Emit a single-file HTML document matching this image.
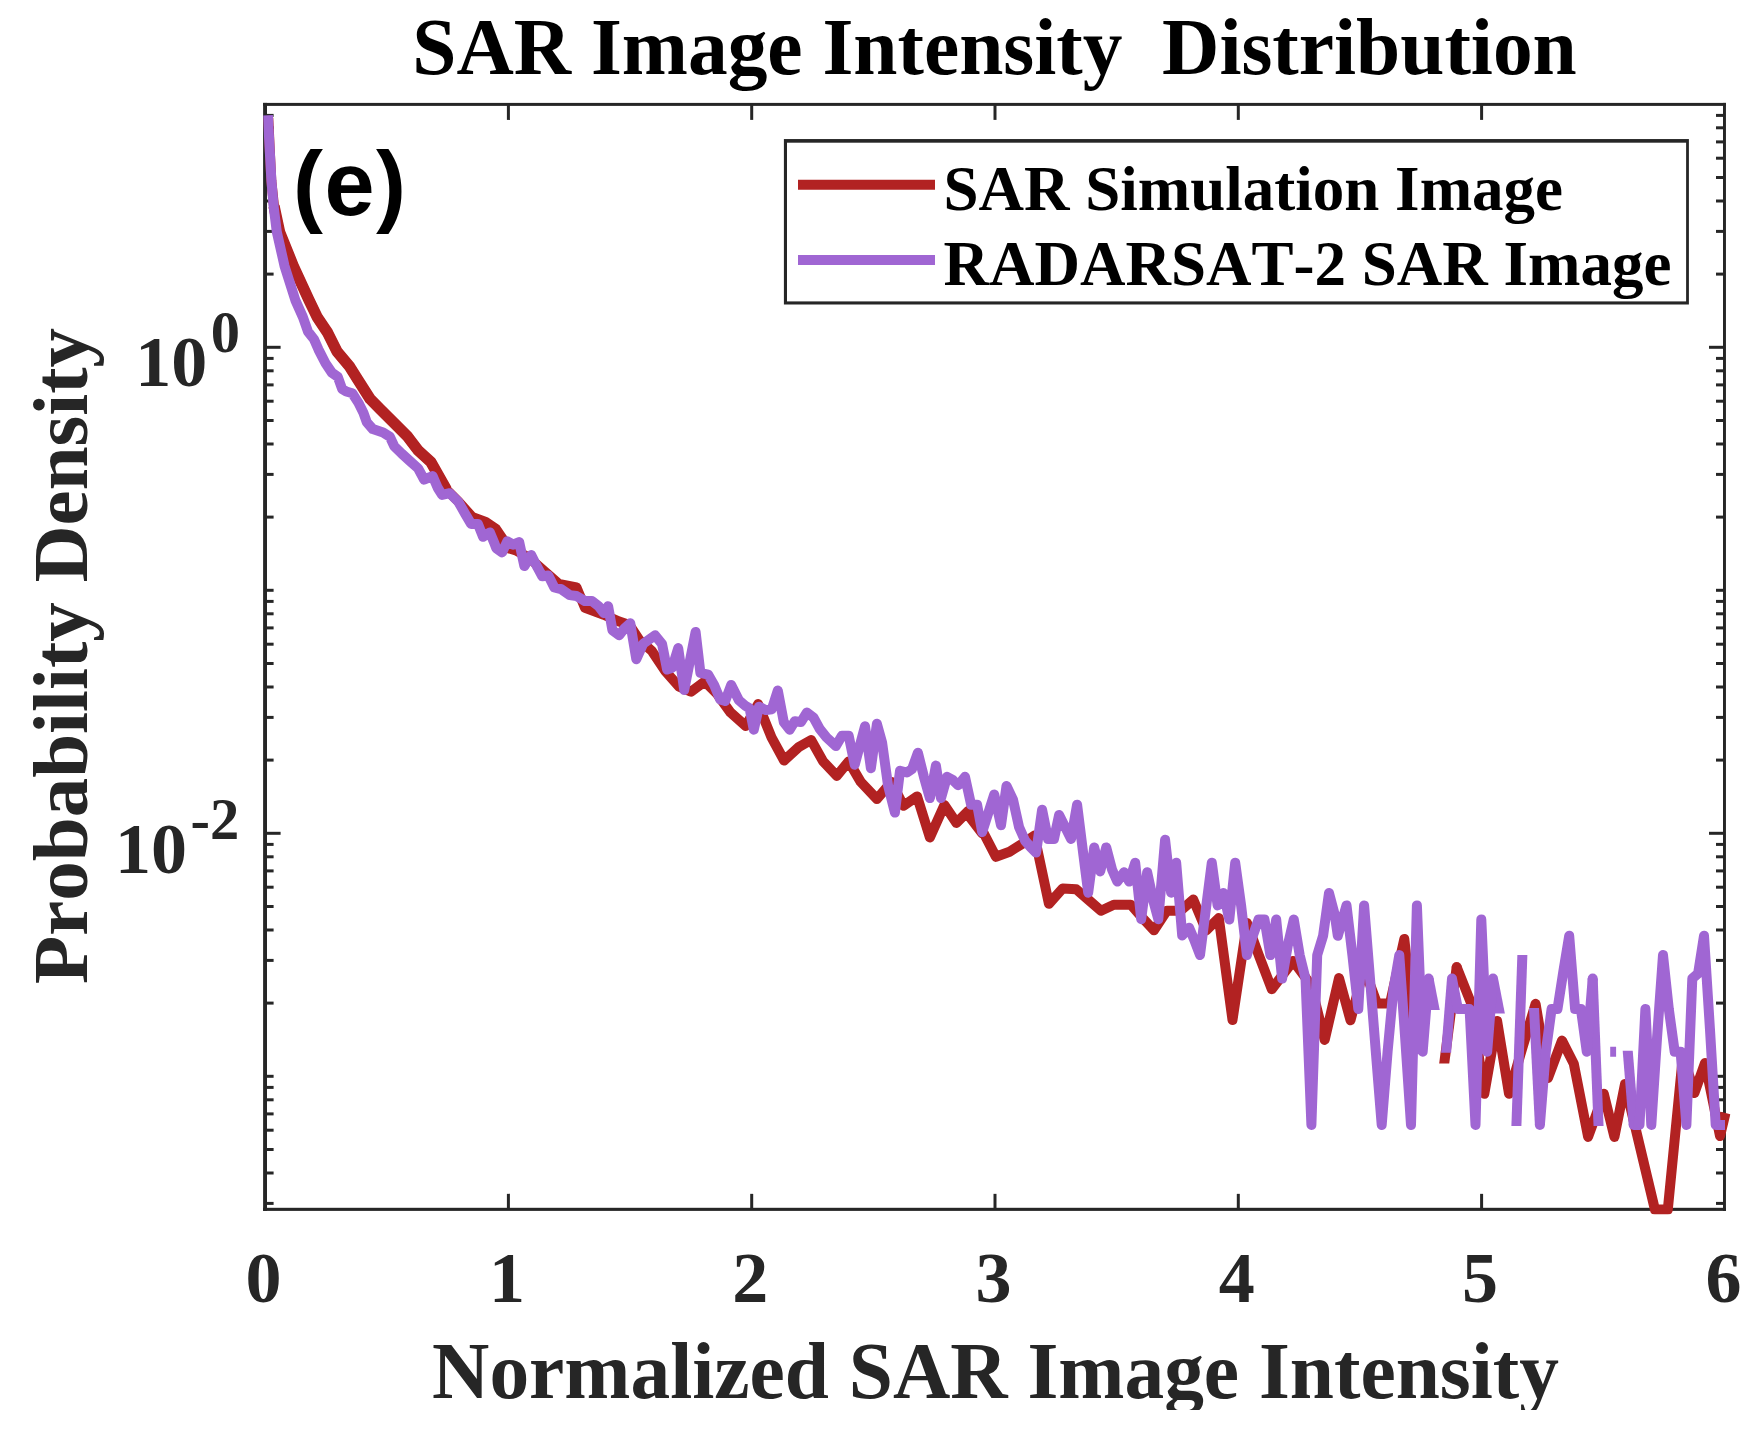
<!DOCTYPE html>
<html><head><meta charset="utf-8"><title>SAR Image Intensity Distribution</title>
<style>html,body{margin:0;padding:0;background:#fff}svg{display:block}text{font-kerning:none}</style></head>
<body>
<svg width="1764" height="1433" viewBox="0 0 1764 1433">
<rect width="1764" height="1433" fill="#fff"/>
<g fill="#262626">
<rect x="263.1" y="102.9" width="3.9" height="1108"/>
<rect x="1723.0" y="102.9" width="2.95" height="1108"/>
<rect x="263.1" y="102.9" width="1462.85" height="3.0"/>
<rect x="263.1" y="1207.8" width="1462.85" height="3.1"/>
</g>
<g stroke="#262626" stroke-width="3" fill="none">
<line x1="508.4" y1="1209.35" x2="508.4" y2="1193.85"/>
<line x1="508.4" y1="104.4" x2="508.4" y2="119.9"/>
<line x1="751.7" y1="1209.35" x2="751.7" y2="1193.85"/>
<line x1="751.7" y1="104.4" x2="751.7" y2="119.9"/>
<line x1="995.0" y1="1209.35" x2="995.0" y2="1193.85"/>
<line x1="995.0" y1="104.4" x2="995.0" y2="119.9"/>
<line x1="1238.3" y1="1209.35" x2="1238.3" y2="1193.85"/>
<line x1="1238.3" y1="104.4" x2="1238.3" y2="119.9"/>
<line x1="1481.6" y1="1209.35" x2="1481.6" y2="1193.85"/>
<line x1="1481.6" y1="104.4" x2="1481.6" y2="119.9"/>
<line x1="265.1" y1="1203.4" x2="273.6" y2="1203.4"/>
<line x1="1724.5" y1="1203.4" x2="1716.0" y2="1203.4"/>
<line x1="265.1" y1="1173.0" x2="273.6" y2="1173.0"/>
<line x1="1724.5" y1="1173.0" x2="1716.0" y2="1173.0"/>
<line x1="265.1" y1="1149.5" x2="273.6" y2="1149.5"/>
<line x1="1724.5" y1="1149.5" x2="1716.0" y2="1149.5"/>
<line x1="265.1" y1="1130.2" x2="273.6" y2="1130.2"/>
<line x1="1724.5" y1="1130.2" x2="1716.0" y2="1130.2"/>
<line x1="265.1" y1="1113.9" x2="273.6" y2="1113.9"/>
<line x1="1724.5" y1="1113.9" x2="1716.0" y2="1113.9"/>
<line x1="265.1" y1="1099.8" x2="273.6" y2="1099.8"/>
<line x1="1724.5" y1="1099.8" x2="1716.0" y2="1099.8"/>
<line x1="265.1" y1="1087.4" x2="273.6" y2="1087.4"/>
<line x1="1724.5" y1="1087.4" x2="1716.0" y2="1087.4"/>
<line x1="265.1" y1="1076.3" x2="273.6" y2="1076.3"/>
<line x1="1724.5" y1="1076.3" x2="1716.0" y2="1076.3"/>
<line x1="265.1" y1="1003.1" x2="273.6" y2="1003.1"/>
<line x1="1724.5" y1="1003.1" x2="1716.0" y2="1003.1"/>
<line x1="265.1" y1="960.4" x2="273.6" y2="960.4"/>
<line x1="1724.5" y1="960.4" x2="1716.0" y2="960.4"/>
<line x1="265.1" y1="930.0" x2="273.6" y2="930.0"/>
<line x1="1724.5" y1="930.0" x2="1716.0" y2="930.0"/>
<line x1="265.1" y1="906.5" x2="273.6" y2="906.5"/>
<line x1="1724.5" y1="906.5" x2="1716.0" y2="906.5"/>
<line x1="265.1" y1="887.2" x2="273.6" y2="887.2"/>
<line x1="1724.5" y1="887.2" x2="1716.0" y2="887.2"/>
<line x1="265.1" y1="870.9" x2="273.6" y2="870.9"/>
<line x1="1724.5" y1="870.9" x2="1716.0" y2="870.9"/>
<line x1="265.1" y1="856.8" x2="273.6" y2="856.8"/>
<line x1="1724.5" y1="856.8" x2="1716.0" y2="856.8"/>
<line x1="265.1" y1="844.4" x2="273.6" y2="844.4"/>
<line x1="1724.5" y1="844.4" x2="1716.0" y2="844.4"/>
<line x1="265.1" y1="833.3" x2="280.6" y2="833.3"/>
<line x1="1724.5" y1="833.3" x2="1709.0" y2="833.3"/>
<line x1="265.1" y1="760.1" x2="273.6" y2="760.1"/>
<line x1="1724.5" y1="760.1" x2="1716.0" y2="760.1"/>
<line x1="265.1" y1="717.4" x2="273.6" y2="717.4"/>
<line x1="1724.5" y1="717.4" x2="1716.0" y2="717.4"/>
<line x1="265.1" y1="687.0" x2="273.6" y2="687.0"/>
<line x1="1724.5" y1="687.0" x2="1716.0" y2="687.0"/>
<line x1="265.1" y1="663.5" x2="273.6" y2="663.5"/>
<line x1="1724.5" y1="663.5" x2="1716.0" y2="663.5"/>
<line x1="265.1" y1="644.2" x2="273.6" y2="644.2"/>
<line x1="1724.5" y1="644.2" x2="1716.0" y2="644.2"/>
<line x1="265.1" y1="627.9" x2="273.6" y2="627.9"/>
<line x1="1724.5" y1="627.9" x2="1716.0" y2="627.9"/>
<line x1="265.1" y1="613.8" x2="273.6" y2="613.8"/>
<line x1="1724.5" y1="613.8" x2="1716.0" y2="613.8"/>
<line x1="265.1" y1="601.4" x2="273.6" y2="601.4"/>
<line x1="1724.5" y1="601.4" x2="1716.0" y2="601.4"/>
<line x1="265.1" y1="590.3" x2="273.6" y2="590.3"/>
<line x1="1724.5" y1="590.3" x2="1716.0" y2="590.3"/>
<line x1="265.1" y1="517.1" x2="273.6" y2="517.1"/>
<line x1="1724.5" y1="517.1" x2="1716.0" y2="517.1"/>
<line x1="265.1" y1="474.4" x2="273.6" y2="474.4"/>
<line x1="1724.5" y1="474.4" x2="1716.0" y2="474.4"/>
<line x1="265.1" y1="444.0" x2="273.6" y2="444.0"/>
<line x1="1724.5" y1="444.0" x2="1716.0" y2="444.0"/>
<line x1="265.1" y1="420.5" x2="273.6" y2="420.5"/>
<line x1="1724.5" y1="420.5" x2="1716.0" y2="420.5"/>
<line x1="265.1" y1="401.2" x2="273.6" y2="401.2"/>
<line x1="1724.5" y1="401.2" x2="1716.0" y2="401.2"/>
<line x1="265.1" y1="384.9" x2="273.6" y2="384.9"/>
<line x1="1724.5" y1="384.9" x2="1716.0" y2="384.9"/>
<line x1="265.1" y1="370.8" x2="273.6" y2="370.8"/>
<line x1="1724.5" y1="370.8" x2="1716.0" y2="370.8"/>
<line x1="265.1" y1="358.4" x2="273.6" y2="358.4"/>
<line x1="1724.5" y1="358.4" x2="1716.0" y2="358.4"/>
<line x1="265.1" y1="347.3" x2="280.6" y2="347.3"/>
<line x1="1724.5" y1="347.3" x2="1709.0" y2="347.3"/>
<line x1="265.1" y1="274.1" x2="273.6" y2="274.1"/>
<line x1="1724.5" y1="274.1" x2="1716.0" y2="274.1"/>
<line x1="265.1" y1="231.4" x2="273.6" y2="231.4"/>
<line x1="1724.5" y1="231.4" x2="1716.0" y2="231.4"/>
<line x1="265.1" y1="201.0" x2="273.6" y2="201.0"/>
<line x1="1724.5" y1="201.0" x2="1716.0" y2="201.0"/>
<line x1="265.1" y1="177.5" x2="273.6" y2="177.5"/>
<line x1="1724.5" y1="177.5" x2="1716.0" y2="177.5"/>
<line x1="265.1" y1="158.2" x2="273.6" y2="158.2"/>
<line x1="1724.5" y1="158.2" x2="1716.0" y2="158.2"/>
<line x1="265.1" y1="141.9" x2="273.6" y2="141.9"/>
<line x1="1724.5" y1="141.9" x2="1716.0" y2="141.9"/>
<line x1="265.1" y1="127.8" x2="273.6" y2="127.8"/>
<line x1="1724.5" y1="127.8" x2="1716.0" y2="127.8"/>
<line x1="265.1" y1="115.4" x2="273.6" y2="115.4"/>
<line x1="1724.5" y1="115.4" x2="1716.0" y2="115.4"/>
</g>
<defs><clipPath id="ac"><rect x="263.3" y="99" width="1467.3" height="1115.6"/></clipPath></defs>
<g clip-path="url(#ac)">
<path d="M268.3,118.0 L269.6,146.3 L271.3,180.5 L274.0,206.0 L279.5,231.8 L293.3,266.0 L309.0,300.1 L317.2,317.1 L327.5,332.5 L336.9,351.3 L349.7,366.7 L358.2,380.3 L370.2,399.1 L380.5,409.4 L397.6,426.5 L407.8,436.8 L418.1,450.4 L431.0,462.2 L439.6,477.6 L446.4,489.5 L458.4,501.5 L472.1,516.9 L485.7,522.0 L496.0,528.9 L502.8,539.1 L471.5,517.1 L483.5,522.3 L495.5,530.8 L507.4,547.9 L516.0,550.5 L529.6,558.2 L545.0,571.8 L558.7,583.8 L576.5,587.4 L585.0,607.9 L603.8,614.8 L619.2,621.6 L629.5,625.0 L639.7,640.4 L651.7,650.7 L665.4,671.2 L679.1,686.6 L691.0,691.7 L704.7,681.5 L716.7,693.4 L730.3,712.2 L745.7,725.9 L758.1,704.1 L771.5,737.4 L784.1,760.5 L799.1,746.8 L811.1,740.0 L823.1,761.4 L836.8,775.9 L848.7,761.4 L860.7,781.9 L876.9,799.0 L891.5,781.9 L903.4,805.8 L917.1,796.4 L929.9,837.4 L944.4,805.0 L956.4,822.9 L968.4,810.9 L982.1,833.2 L966.8,813.2 L982.2,830.3 L995.9,856.8 L1009.6,851.7 L1023.2,843.2 L1034.4,835.5 L1048.9,903.8 L1062.6,888.5 L1076.2,889.3 L1088.2,899.6 L1101.0,910.7 L1113.8,904.7 L1130.9,904.7 L1142.9,918.4 L1154.0,930.3 L1166.8,910.7 L1180.5,910.7 L1193.3,899.6 L1206.2,930.3 L1218.8,918.0 L1232.5,1020.0 L1247.0,923.0 L1259.0,955.7 L1271.8,989.2 L1293.2,961.0 L1311.0,985.0 L1324.7,1040.0 L1339.0,978.0 L1350.5,1020.3 L1364.0,968.0 L1377.0,1003.5 L1390.0,1003.5 L1404.3,939.0 L1415.5,1040.0" fill="none" stroke="#B22222" stroke-width="10" stroke-linejoin="round" stroke-linecap="butt"/>
<clipPath id="c1"><rect x="0" y="0" width="1764" height="1063.5"/></clipPath><g clip-path="url(#c1)"><path d="M1456.7,967.0 L1443.7,1067.5" fill="none" stroke="#B22222" stroke-width="10" stroke-linejoin="round" stroke-linecap="butt"/></g><circle cx="1456.7" cy="967.0" r="5" fill="#B22222"/><path d="M1456.7,967.0 L1471.0,1003.0 L1484.3,1093.8 L1497.1,1020.9 L1509.0,1093.8 L1522.0,1049.0 L1535.6,1003.8 L1548.0,1078.0 L1562.0,1040.6 L1573.8,1063.8 L1588.1,1136.9 L1603.8,1093.8 L1614.4,1136.9 L1625.0,1084.0 L1654.9,1209.5 L1667.8,1209.5 L1683.0,1055.0 L1694.4,1093.0 L1705.0,1063.0 L1720.0,1136.0 L1725.5,1113.0" fill="none" stroke="#B22222" stroke-width="10" stroke-linejoin="round" stroke-linecap="butt"/>
<path d="M274.0,206.0 L279.5,231.8 L293.3,266.0 L309.0,300.1 L317.2,317.1 L327.5,332.5 L336.9,351.3 L349.7,366.7 L358.2,380.3 L370.2,399.1 L380.5,409.4 L397.6,426.5 L407.8,436.8 L418.1,450.4 L431.0,462.2 L439.6,477.6 L446.4,489.5" fill="none" stroke="#B22222" stroke-width="11.3" stroke-linejoin="round" stroke-linecap="butt"/>
<clipPath id="c2"><rect x="0" y="0" width="1764" height="1010.0"/></clipPath><g clip-path="url(#c2)"><path d="M1428.6,978.6 L1435.4,1013.9" fill="none" stroke="#A066D3" stroke-width="10" stroke-linejoin="round" stroke-linecap="butt"/></g><circle cx="1428.6" cy="978.6" r="5" fill="#A066D3"/><path d="M267.9,115.2 L269.5,146.3 L271.4,180.5 L273.6,206.1 L276.8,231.8 L284.5,265.9 L295.3,300.1 L302.9,317.1 L308.0,331.6 L314.0,339.3 L318.5,349.6 L325.5,363.2 L331.8,372.6 L337.8,376.9 L342.1,388.9 L346.3,391.5 L352.3,393.2 L358.3,402.6 L363.4,412.8 L366.8,422.2 L372.8,429.1 L383.1,432.5 L389.9,436.8 L394.2,446.2 L401.9,453.8 L410.4,461.5 L418.1,468.4 L424.1,479.5 L432.6,476.1 L437.8,488.0 L442.1,494.9 L449.7,493.2 L458.3,501.7 L465.1,513.7 L471.1,523.9 L477.9,523.9 L483.1,536.8 L489.9,532.5 L494.2,542.7 L496.2,548.1 L502.1,552.4 L507.3,541.3 L513.2,544.7 L519.2,542.1 L524.4,566.1 L531.2,555.0 L537.2,566.9 L542.3,576.3 L548.3,575.5 L554.3,587.4 L561.1,589.1 L569.7,595.1 L576.5,596.0 L585.0,601.1 L591.9,601.1 L598.7,606.2 L603.8,613.1 L608.1,606.2 L612.4,630.2 L619.2,635.3 L624.4,628.5 L630.3,623.3 L636.3,659.2 L643.2,643.8 L655.1,635.3 L662.0,643.8 L667.1,669.5 L672.2,667.8 L678.2,648.1 L684.2,690.0 L695.6,631.9 L700.4,672.9 L708.1,674.6 L714.1,684.9 L720.1,699.4 L725.2,701.1 L731.2,684.9 L738.9,700.3 L745.3,705.8 L749.6,708.4 L753.8,729.7 L759.0,706.7 L765.8,710.1 L771.8,709.2 L777.8,690.4 L783.8,722.1 L789.7,729.7 L794.9,721.2 L800.9,722.1 L806.8,712.6 L813.7,717.8 L819.7,728.9 L826.5,737.4 L835.9,746.0 L841.9,735.7 L848.7,735.7 L854.7,764.8 L865.0,726.3 L870.9,768.2 L876.9,723.8 L882.1,742.6 L888.0,785.3 L894.9,812.6 L900.0,770.8 L906.8,772.5 L912.0,769.1 L917.9,752.8 L923.9,776.8 L929.9,798.1 L935.9,765.6 L941.0,798.1 L947.0,776.8 L953.0,780.2 L958.1,785.3 L965.0,776.8 L971.1,804.7 L977.1,804.7 L982.2,832.1 L988.2,813.2 L994.2,794.4 L1001.0,825.2 L1006.5,785.9 L1013.0,799.6 L1019.0,826.9 L1025.0,840.6 L1030.9,847.4 L1036.1,852.6 L1042.1,809.8 L1048.0,838.9 L1054.0,838.9 L1059.1,815.0 L1065.1,826.9 L1071.1,838.9 L1077.1,804.7 L1083.1,852.6 L1088.2,892.7 L1094.2,847.4 L1100.2,871.4 L1106.2,847.4 L1112.1,869.7 L1117.3,881.6 L1124.1,872.2 L1129.2,881.6 L1135.2,862.8 L1141.2,919.2 L1147.2,872.2 L1153.2,900.4 L1158.3,919.2 L1165.1,839.7 L1171.1,892.7 L1176.2,862.8 L1182.2,935.5 L1189.1,927.8 L1194.2,939.7 L1200.0,955.1 L1211.8,862.7 L1217.6,905.4 L1223.5,893.0 L1229.3,919.5 L1235.2,862.7 L1241.1,905.4 L1246.9,955.1 L1252.8,935.8 L1258.6,919.5 L1264.5,919.5 L1270.4,955.1 L1276.2,919.5 L1282.1,978.6 L1287.9,945.0 L1293.8,919.5 L1299.7,955.1 L1305.5,978.6 L1311.4,1124.9 L1317.2,955.1 L1323.1,935.8 L1329.0,893.0 L1334.8,915.1 L1337.8,935.8 L1346.5,905.4 L1352.4,955.1 L1358.3,1009.0 L1364.1,905.4 L1370.0,978.6 L1375.8,1051.7 L1381.7,1124.9 L1387.6,1051.7 L1393.4,989.7 L1399.3,955.1 L1405.1,1037.0 L1411.0,1124.9 L1416.9,905.4 L1422.7,1051.7 L1428.6,978.6" fill="none" stroke="#A066D3" stroke-width="10" stroke-linejoin="round" stroke-linecap="butt"/>
<clipPath id="c3"><rect x="0" y="0" width="1764" height="1013.5"/></clipPath><g clip-path="url(#c3)"><path d="M1493.0,978.6 L1500.5,1017.3" fill="none" stroke="#A066D3" stroke-width="10" stroke-linejoin="round" stroke-linecap="butt"/></g><circle cx="1493.0" cy="978.6" r="5" fill="#A066D3"/><clipPath id="c4"><rect x="0" y="0" width="1764" height="1052.7"/></clipPath><g clip-path="url(#c4)"><path d="M1452.0,978.6 L1445.8,1056.7" fill="none" stroke="#A066D3" stroke-width="10" stroke-linejoin="round" stroke-linecap="butt"/></g><circle cx="1452.0" cy="978.6" r="5" fill="#A066D3"/><path d="M1452.0,978.6 L1457.9,1009.0 L1463.7,1009.0 L1469.6,1009.0 L1475.5,1124.9 L1481.3,919.5 L1487.2,1051.7 L1493.0,978.6" fill="none" stroke="#A066D3" stroke-width="10" stroke-linejoin="round" stroke-linecap="butt"/>
<clipPath id="c5"><rect x="0" y="955.1" width="1764" height="170.8"/></clipPath><g clip-path="url(#c5)"><path d="M1516.3,1128.9 L1522.5,951.1" fill="none" stroke="#A066D3" stroke-width="10" stroke-linejoin="round" stroke-linecap="butt"/></g>
<clipPath id="c6"><rect x="0" y="0" width="1764" height="1125.9"/></clipPath><g clip-path="url(#c6)"><path d="M1592.7,978.6 L1598.7,1129.9" fill="none" stroke="#A066D3" stroke-width="10" stroke-linejoin="round" stroke-linecap="butt"/></g><circle cx="1592.7" cy="978.6" r="5" fill="#A066D3"/><clipPath id="c7"><rect x="0" y="1008.0" width="1764" height="425.0"/></clipPath><g clip-path="url(#c7)"><path d="M1539.9,1124.9 L1533.8,1004.0" fill="none" stroke="#A066D3" stroke-width="10" stroke-linejoin="round" stroke-linecap="butt"/></g><circle cx="1539.9" cy="1124.9" r="5" fill="#A066D3"/><path d="M1539.9,1124.9 L1545.8,1051.7 L1551.6,1009.0 L1557.5,1009.0 L1563.4,971.0 L1569.2,935.8 L1575.1,1009.0 L1580.9,1009.0 L1586.8,1051.7 L1592.7,978.6" fill="none" stroke="#A066D3" stroke-width="10" stroke-linejoin="round" stroke-linecap="butt"/>
<path d="M1610.2,1051.7 L1616.1,1051.7" fill="none" stroke="#A066D3" stroke-width="10" stroke-linejoin="round" stroke-linecap="butt"/>
<clipPath id="c8"><rect x="0" y="1050.7" width="1764" height="382.3"/></clipPath><g clip-path="url(#c8)"><path d="M1633.7,1124.9 L1627.4,1046.8" fill="none" stroke="#A066D3" stroke-width="10" stroke-linejoin="round" stroke-linecap="butt"/></g><circle cx="1633.7" cy="1124.9" r="5" fill="#A066D3"/><path d="M1633.7,1124.9 L1639.5,1124.9 L1645.4,1009.0 L1651.3,1124.9 L1657.1,1037.0 L1663.0,955.1 L1668.8,1009.0 L1674.7,1051.7 L1680.6,1051.7 L1686.4,1124.9 L1692.3,978.6 L1698.1,973.5 L1704.0,935.8 L1709.9,1028.2 L1715.7,1124.9 L1721.6,1124.9 L1725.0,1124.9" fill="none" stroke="#A066D3" stroke-width="10" stroke-linejoin="round" stroke-linecap="butt"/>
</g>
<rect x="783.9" y="139.05" width="905.0000000000001" height="165.45" fill="#262626"/>
<rect x="787.0" y="142.7" width="899.0999999999999" height="158.7" fill="#fff"/>
<line x1="798" y1="184.8" x2="935" y2="184.8" stroke="#B22222" stroke-width="10"/>
<line x1="798" y1="260" x2="935" y2="260" stroke="#A066D3" stroke-width="10"/>
<text x="943.5" y="209.8" font-family="Liberation Serif, serif" font-weight="bold" font-size="63" fill="#000">SAR Simulation Image</text>
<text x="943.5" y="285.1" font-family="Liberation Serif, serif" font-weight="bold" font-size="63" fill="#000">RADARSAT-2 SAR Image</text>
<text x="994.5" y="74" font-family="Liberation Serif, serif" font-weight="bold" font-size="79.4" fill="#000" text-anchor="middle" xml:space="preserve" style="white-space:pre">SAR Image Intensity  Distribution</text>
<text x="293" y="215" font-family="Liberation Sans, sans-serif" font-weight="bold" font-size="90" letter-spacing="1.5" fill="#000">(e)</text>
<text x="263.6" y="1302" font-family="Liberation Serif, serif" font-weight="bold" font-size="72" fill="#262626" text-anchor="middle">0</text>
<text x="506.9" y="1302" font-family="Liberation Serif, serif" font-weight="bold" font-size="72" fill="#262626" text-anchor="middle">1</text>
<text x="750.2" y="1302" font-family="Liberation Serif, serif" font-weight="bold" font-size="72" fill="#262626" text-anchor="middle">2</text>
<text x="993.5" y="1302" font-family="Liberation Serif, serif" font-weight="bold" font-size="72" fill="#262626" text-anchor="middle">3</text>
<text x="1236.8" y="1302" font-family="Liberation Serif, serif" font-weight="bold" font-size="72" fill="#262626" text-anchor="middle">4</text>
<text x="1480.1" y="1302" font-family="Liberation Serif, serif" font-weight="bold" font-size="72" fill="#262626" text-anchor="middle">5</text>
<text x="1723.4" y="1302" font-family="Liberation Serif, serif" font-weight="bold" font-size="72" fill="#262626" text-anchor="middle">6</text>
<text x="135.3" y="385.7" font-family="Liberation Serif, serif" font-weight="bold" font-size="72" fill="#262626">10<tspan dx="3.5" dy="-34.2" font-size="58.5">0</tspan></text>
<text x="115" y="872.7" font-family="Liberation Serif, serif" font-weight="bold" font-size="72" fill="#262626">10<tspan dx="3.5" dy="-33.7" font-size="58.5">-2</tspan></text>
<text x="995.5" y="1398" font-family="Liberation Serif, serif" font-weight="bold" font-size="79.4" fill="#262626" text-anchor="middle">Normalized SAR Image Intensity</text>
<rect x="0" y="1410" width="1764" height="23" fill="#fff"/>
<text transform="translate(87,656) rotate(-90)" font-family="Liberation Serif, serif" font-weight="bold" font-size="79" fill="#262626" text-anchor="middle">Probability Density</text>
</svg>
</body></html>
